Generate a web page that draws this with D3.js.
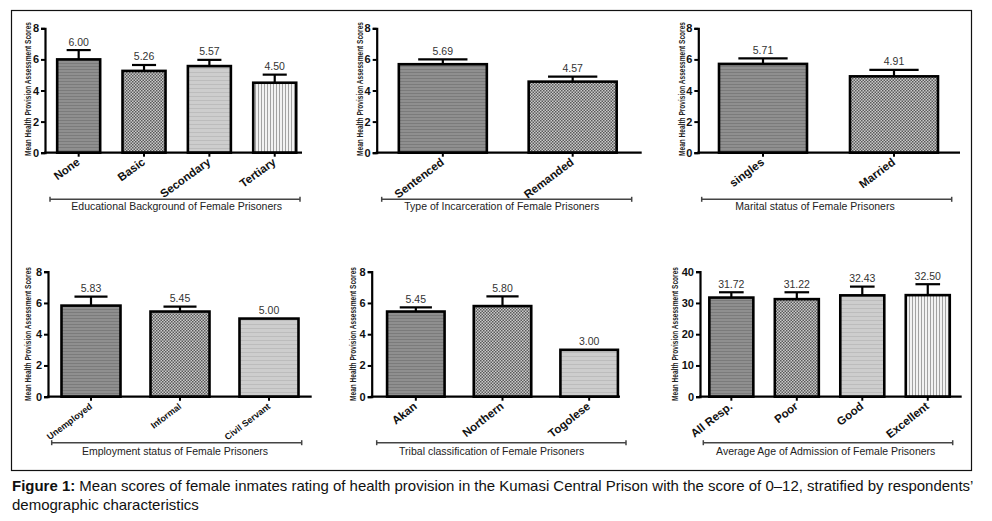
<!DOCTYPE html>
<html><head><meta charset="utf-8">
<script src="https://cdn.jsdelivr.net/npm/d3@7"></script>
<style>body{margin:0;background:#fff}svg{display:block}</style>
</head><body>
<svg id="chart" width="992" height="521"></svg>
<script>
// ---------- DATA ----------
const yAxisTitle = "Mean Health Provision Assessment Scores";
const groupTitles = [
  "Educational Background of Female Prisoners",
  "Type of Incarceration of Female Prisoners",
  "Marital status of Female Prisoners",
  "Employment status of Female Prisoners",
  "Tribal classification of Female Prisoners",
  "Average Age of Admission of Female Prisoners"
];
const categories1 = ["None", "Basic", "Secondary", "Tertiary"];
const values1 = [6.00, 5.26, 5.57, 4.50];
const errors1 = [0.60, 0.38, 0.40, 0.52];

const categories2 = ["Sentenced", "Remanded"];
const values2 = [5.69, 4.57];
const errors2 = [0.31, 0.32];

const categories3 = ["singles", "Married"];
const values3 = [5.71, 4.91];
const errors3 = [0.36, 0.41];

const categories4 = ["Unemployed", "Informal", "Civil Servant"];
const values4 = [5.83, 5.45, 5.00];
const errors4 = [0.57, 0.31, 0];

const categories5 = ["Akan", "Northern", "Togolese"];
const values5 = [5.45, 5.80, 3.00];
const errors5 = [0.27, 0.62, 0];

const categories6 = ["All Resp.", "Poor", "Good", "Excellent"];
const values6 = [31.72, 31.22, 32.43, 32.50];
const errors6 = [1.7, 2.2, 2.8, 3.5];

const yTicksScore = [0, 2, 4, 6, 8];
const yTicksAge = [0, 10, 20, 30, 40];

const captionBold = "Figure 1:";
const captionLine1 = " Mean scores of female inmates rating of health provision in the Kumasi Central Prison with the score of 0\u201312, stratified by respondents\u2019";
const captionLine2 = "demographic characteristics";

// ---------- LAYOUT (styling only) ----------
const fillIds = ["pDark", "pCheck", "pLight", "pVert"];
const panels = [
  {cats: categories1, vals: values1, errs: errors1, ticks: yTicksScore, title: groupTitles[0],
   ax: 45, axEnd: 302, band: [46, 307.4], bw: 43, y0: 152.7, yTop: 28.3, yTitleX: 28, yTitleY: 89,
   br: [50, 300], brY: 199.3, lblX: 176.7, lblY: 209.5, xFont: 11.5, ang: -36},
  {cats: categories2, vals: values2, errs: errors2, ticks: yTicksScore, title: groupTitles[1],
   ax: 376.7, axEnd: 641.7, band: [377.9, 637.6], bw: 88, y0: 152.7, yTop: 28.3, yTitleX: 360, yTitleY: 89,
   br: [381.7, 631.7], brY: 199.3, lblX: 501.7, lblY: 209.5, xFont: 11.5, ang: -37},
  {cats: categories3, vals: values3, errs: errors3, ticks: yTicksScore, title: groupTitles[2],
   ax: 698.3, axEnd: 960, band: [697.5, 959.5], bw: 88, y0: 152.7, yTop: 28.3, yTitleX: 681.7, yTitleY: 89,
   br: [701.7, 951.7], brY: 199.3, lblX: 815, lblY: 209.5, xFont: 11.5, ang: -37},
  {cats: categories4, vals: values4, errs: errors4, ticks: yTicksScore, title: groupTitles[3],
   ax: 48, axEnd: 311.7, band: [46.5, 313.5], bw: 59, y0: 396.7, yTop: 271.7, yTitleX: 28.3, yTitleY: 334,
   br: [51.7, 301.7], brY: 442.7, lblX: 175, lblY: 455, xFont: 9, ang: -37},
  {cats: categories5, vals: values5, errs: errors5, ticks: yTicksScore, title: groupTitles[4],
   ax: 371.7, axEnd: 620, band: [372.5, 632.5], bw: 57.5, y0: 396.7, yTop: 271.7, yTitleX: 353.3, yTitleY: 334,
   br: [376.7, 626], brY: 442.7, lblX: 491.7, lblY: 455, xFont: 11.5, ang: -38},
  {cats: categories6, vals: values6, errs: errors6, ticks: yTicksAge, title: groupTitles[5],
   ax: 700, axEnd: 961.7, band: [698.6, 960.5], bw: 44, y0: 396.7, yTop: 271.7, yTitleX: 675, yTitleY: 334,
   br: [703.3, 952.7], brY: 442.7, lblX: 825.7, lblY: 455, xFont: 11.5, ang: -38}
];

const svg = d3.select("#chart");
const defs = svg.append("defs");

function pat(id, w, h, bg, parts) {
  const p = defs.append("pattern").attr("id", id).attr("patternUnits", "userSpaceOnUse")
    .attr("width", w).attr("height", h);
  p.append("rect").attr("width", w).attr("height", h).attr("fill", bg);
  parts.forEach(r => p.append("rect").attr("x", r[0]).attr("y", r[1]).attr("width", r[2]).attr("height", r[3]).attr("fill", r[4]));
}
pat("pDark", 4, 3, "#8f8f8f", [[0, 0, 4, 1, "#7b7b7b"]]);
pat("pCheck", 3, 3, "#cacaca", [[0, 0, 1.5, 1.5, "#5a5a5a"], [1.5, 1.5, 1.5, 1.5, "#5a5a5a"]]);
pat("pLight", 4, 4, "#cdcdcd", [[0, 0, 4, 1, "#bcbcbc"]]);
pat("pVert", 3, 4, "#f2f2f2", [[0, 0, 1, 4, "#a2a2a2"]]);

// outer frame
svg.append("rect").attr("x", 11.5).attr("y", 10.5).attr("width", 960).attr("height", 460)
  .attr("fill", "none").attr("stroke", "#111").attr("stroke-width", 1.2);

const fontMain = "'Liberation Sans', Arial, sans-serif";

panels.forEach(p => {
  const g = svg.append("g");
  const maxY = p.ticks[p.ticks.length - 1];
  const y = d3.scaleLinear().domain([0, maxY]).range([p.y0, p.yTop]);
  const pi = 1 - p.bw / ((p.band[1] - p.band[0]) / p.cats.length);
  const x = d3.scaleBand().domain(p.cats).range(p.band).paddingInner(pi).paddingOuter(pi / 2);

  // error bars
  p.cats.forEach((c, i) => {
    const e = p.errs[i];
    if (e > 0) {
      const cx = x(c) + x.bandwidth() / 2;
      const capW = x.bandwidth() * 0.56;
      g.append("line").attr("x1", cx).attr("x2", cx).attr("y1", y(p.vals[i])).attr("y2", y(p.vals[i] + e))
        .attr("stroke", "#000").attr("stroke-width", 2.2);
      g.append("line").attr("x1", cx - capW / 2).attr("x2", cx + capW / 2)
        .attr("y1", y(p.vals[i] + e)).attr("y2", y(p.vals[i] + e))
        .attr("stroke", "#000").attr("stroke-width", 2.2);
    }
  });

  // bars
  g.selectAll("rect.bar").data(p.cats).join("rect").attr("class", "bar")
    .attr("x", c => x(c)).attr("width", x.bandwidth())
    .attr("y", (c, i) => y(p.vals[i])).attr("height", (c, i) => p.y0 - y(p.vals[i]))
    .attr("fill", (c, i) => `url(#${fillIds[i]})`)
    .attr("stroke", "#000").attr("stroke-width", 2.6);

  // value labels
  g.selectAll("text.val").data(p.cats).join("text").attr("class", "val")
    .attr("x", c => x(c) + x.bandwidth() / 2)
    .attr("y", (c, i) => y(p.vals[i] + p.errs[i]) - 4.5)
    .attr("text-anchor", "middle").attr("font-family", fontMain).attr("font-size", 10.5)
    .attr("fill", "#333").text((c, i) => p.vals[i].toFixed(2));

  // y axis
  const yAxis = d3.axisLeft(y).tickValues(p.ticks).tickSize(4).tickPadding(2).tickFormat(d3.format("d"));
  const ya = g.append("g").attr("transform", `translate(${p.ax},0)`).call(yAxis);
  ya.select(".domain").attr("stroke", "#000").attr("stroke-width", 2.2);
  ya.selectAll(".tick line").attr("stroke", "#000").attr("stroke-width", 2);
  ya.selectAll(".tick text").attr("font-family", fontMain).attr("font-weight", "bold")
    .attr("font-size", 11).attr("fill", "#111");

  // x axis
  g.append("line").attr("x1", p.ax - 1).attr("x2", p.axEnd).attr("y1", p.y0).attr("y2", p.y0)
    .attr("stroke", "#000").attr("stroke-width", 2.2);
  p.cats.forEach(c => {
    const cx = x(c) + x.bandwidth() / 2;
    g.append("line").attr("x1", cx).attr("x2", cx).attr("y1", p.y0).attr("y2", p.y0 + 4)
      .attr("stroke", "#000").attr("stroke-width", 2);
    g.append("text").attr("transform", `translate(${cx + 2},${p.y0 + 11}) rotate(${p.ang})`)
      .attr("text-anchor", "end").attr("font-family", fontMain).attr("font-weight", "bold")
      .attr("font-size", p.xFont).attr("fill", "#111").text(c);
  });

  // y title (condensed by horizontal scaling so its real box matches)
  const yt = g.append("text").attr("text-anchor", "middle").attr("font-family", fontMain)
    .attr("font-weight", "bold").attr("font-size", 8.5).attr("fill", "#222").text(yAxisTitle);
  const natural = yt.node().getComputedTextLength();
  const sx = 134 / natural;
  yt.attr("transform", `translate(${p.yTitleX + 3},${p.yTitleY}) rotate(-90) scale(${sx},1)`);

  // bracket
  g.append("line").attr("x1", p.br[0]).attr("x2", p.br[1]).attr("y1", p.brY).attr("y2", p.brY)
    .attr("stroke", "#444").attr("stroke-width", 1.5);
  [p.br[0], p.br[1]].forEach(bx => g.append("line").attr("x1", bx).attr("x2", bx)
    .attr("y1", p.brY - 2.5).attr("y2", p.brY + 2.5).attr("stroke", "#444").attr("stroke-width", 1.5));
  g.append("text").attr("x", p.lblX).attr("y", p.lblY).attr("text-anchor", "middle")
    .attr("font-family", fontMain).attr("font-size", 10.5).attr("fill", "#222").text(p.title);
});

// caption (condensed by horizontal scaling)
const capFont = "'Liberation Sans', Arial, sans-serif";
function capText(yPos, width, build) {
  const t = svg.append("text").attr("font-family", capFont).attr("font-size", 14).attr("fill", "#111");
  build(t);
  const w = t.node().getComputedTextLength();
  t.attr("transform", `translate(12,${yPos}) scale(${width / w},1)`);
}
capText(491, 962, t => {
  t.append("tspan").attr("font-weight", "bold").text(captionBold);
  t.append("tspan").text(captionLine1);
});
capText(510, 187, t => t.text(captionLine2));
</script>
</body></html>
